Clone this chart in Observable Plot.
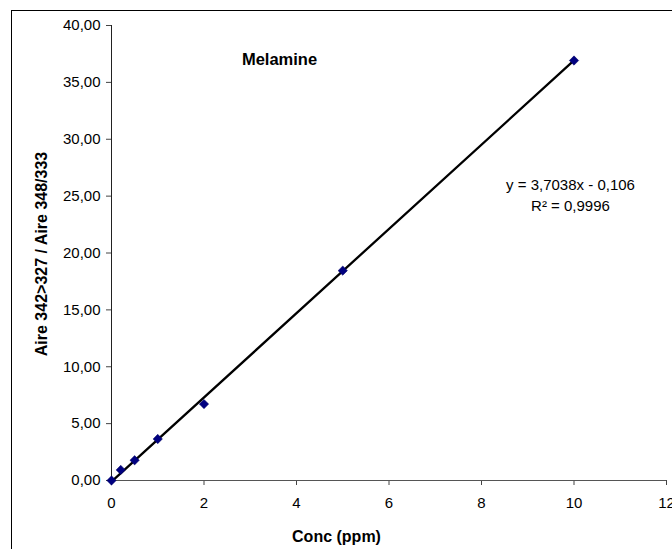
<!DOCTYPE html>
<html><head><meta charset="utf-8">
<script src="https://cdn.jsdelivr.net/npm/d3@7"></script>
<script src="https://cdn.jsdelivr.net/npm/@observablehq/plot@0.6"></script>
<style>
body{margin:0;background:#fff;overflow:hidden}
#wrap{position:relative;width:672px;height:549px;overflow:hidden;background:#fff}
#border{position:absolute;left:11px;top:10px;width:700px;height:600px;border:1.5px solid #000}
#chart{position:absolute;left:0;top:0}
</style></head><body>
<div id="wrap"><div id="border"></div><div id="chart"></div></div>
<script>
// data
const conc = [0, 0.2, 0.5, 1, 2, 5, 10];
const ratio = [0, 0.93, 1.78, 3.65, 6.72, 18.45, 36.92];
const xTicks = [0, 2, 4, 6, 8, 10, 12];
const yTicks = [0, 5, 10, 15, 20, 25, 30, 35, 40];
const slope = [3.7038];
const intercept = [-0.106];
const r2 = [0.9996];
const title = ["Melamine"];
const xLabel = ["Conc (ppm)"];
const yLabel = ["Aire 342>327 / Aire 348/333"];

const points = conc.map((c, i) => ({x: c, y: ratio[i]}));
const ext = d3.extent(conc);
const fit = ext.map(x => ({x, y: slope[0] * x + intercept[0]}));
const comma = s => s.replace(".", ",");
const eqText = `y = ${comma(String(slope[0]))}x - ${comma(String(Math.abs(intercept[0])))}`;
const r2Text = `R² = ${comma(String(r2[0]))}`;

const font = "'Liberation Sans', Arial, sans-serif";
const chart = Plot.plot({
  width: 672,
  height: 549,
  marginLeft: 111,
  marginRight: 6,
  marginTop: 25,
  marginBottom: 69,
  style: {fontFamily: font, fontSize: "15px", background: "transparent", color: "#000", overflow: "visible"},
  x: {domain: [0, 12]},
  y: {domain: [0, 40]},
  marks: [
    Plot.axisX({ticks: xTicks, tickFormat: d => String(d), tickSize: 5, tickPadding: 12, label: null, stroke: "#444"}),
    Plot.axisY({ticks: yTicks, tickFormat: d => comma(d3.format(".2f")(d)), tickSize: 5, tickPadding: 6, label: null, stroke: "#444"}),
    Plot.ruleY([0], {stroke: "#555", strokeWidth: 1}),
    Plot.ruleX([0], {stroke: "#222", strokeWidth: 1}),
    Plot.line(fit, {x: "x", y: "y", stroke: "#000", strokeWidth: 2.3}),
    Plot.dot(points, {x: "x", y: "y", symbol: "diamond2", r: 4.2, fill: "#000080", stroke: "#000060", strokeWidth: 0.5}),
    Plot.text(title, {text: d => d, frameAnchor: "top-left", dx: 168, dy: 34, textAnchor: "middle", lineAnchor: "middle", fontWeight: "bold", fontSize: 16.5}),
    Plot.text([eqText], {text: d => d, frameAnchor: "top-left", dx: 459, dy: 160, textAnchor: "middle", lineAnchor: "middle", fontSize: 15}),
    Plot.text([r2Text], {text: d => d, frameAnchor: "top-left", dx: 459, dy: 181, textAnchor: "middle", lineAnchor: "middle", fontSize: 15}),
    Plot.text(xLabel, {text: d => d, frameAnchor: "bottom-left", dx: 225, dy: 56, textAnchor: "middle", lineAnchor: "middle", fontWeight: "bold", fontSize: 16}),
    Plot.text(yLabel, {text: d => d, frameAnchor: "left", dx: -70, dy: 1, rotate: -90, textAnchor: "middle", lineAnchor: "middle", fontWeight: "bold", fontSize: 16})
  ]
});
document.getElementById("chart").appendChild(chart);
</script>
</body></html>
